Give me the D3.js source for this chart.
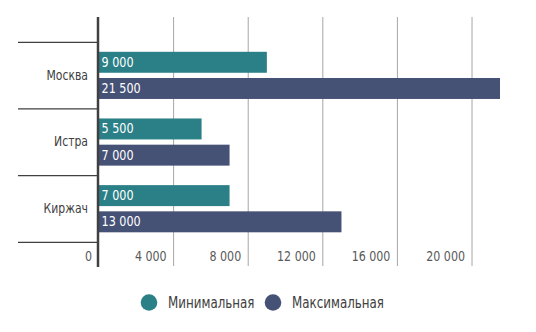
<!DOCTYPE html>
<html>
<head>
<meta charset="utf-8">
<script src="https://cdn.jsdelivr.net/npm/d3@7/dist/d3.min.js"></script>
<style>
  html, body { margin: 0; padding: 0; background: #fff; }
  svg { display: block; font-family: "DejaVu Sans Condensed", "Liberation Sans", "Roboto", sans-serif; }
</style>
</head>
<body>
<svg id="chart" width="536" height="332"></svg>
<script>
// Data
const cities = ["Москва", "Истра", "Киржач"];
const minValues = [9000, 5500, 7000];
const maxValues = [21500, 7000, 13000];
const seriesNames = ["Минимальная", "Максимальная"];
const tickValues = [0, 4000, 8000, 12000, 16000, 20000];

const colors = ["#2b7f86", "#465176"];
const fmt = v => d3.format(",")(v).replace(/,/g, "\u00a0");

// Narrow the text horizontally for a condensed look
function condense(sel, k) {
  sel.each(function () {
    const w = this.getComputedTextLength();
    d3.select(this).attr("textLength", w * k).attr("lengthAdjust", "spacingAndGlyphs");
  });
}

const svg = d3.select("#chart");

const x = d3.scaleLinear().domain([0, 21500]).range([99, 500]);
const y = d3.scaleBand().domain(cities).range([42.3, 242.3]).paddingInner(0).paddingOuter(0);
const inner = d3.scaleBand().domain([0, 1]).range([9.5, y.bandwidth() - 10]).paddingInner(0.2);

const gridTop = 17, gridBottom = 266;

// Vertical grid lines
svg.append("g").selectAll("line")
  .data(tickValues.filter(d => d > 0))
  .join("line")
  .attr("x1", d => x(d)).attr("x2", d => x(d))
  .attr("y1", gridTop).attr("y2", gridBottom)
  .attr("stroke", "#a6a6a6").attr("stroke-width", 1);

// Tick labels (right-aligned to the left of each grid line)
svg.append("g").selectAll("text")
  .data(tickValues)
  .join("text")
  .attr("x", d => x(d) - 7)
  .attr("y", 256.5)
  .attr("text-anchor", "end")
  .attr("dominant-baseline", "middle")
  .attr("font-size", 14)
  .attr("fill", "#595959")
  .text(d => fmt(d))
  .call(condense, 0.88);

// Category separators
const seps = cities.map(c => y(c)).concat([y(cities[cities.length - 1]) + y.bandwidth()]);
svg.append("g").selectAll("line")
  .data(seps)
  .join("line")
  .attr("x1", 18).attr("x2", 98)
  .attr("y1", d => d).attr("y2", d => d)
  .attr("stroke", "#404040").attr("stroke-width", 1.2);

// Category labels
svg.append("g").selectAll("text")
  .data(cities)
  .join("text")
  .attr("x", 88)
  .attr("y", d => y(d) + y.bandwidth() / 2)
  .attr("text-anchor", "end")
  .attr("dominant-baseline", "middle")
  .attr("font-size", 14)
  .attr("fill", "#404040")
  .text(d => d)
  .call(condense, 0.86);

// Bars
const rows = [];
cities.forEach((c, i) => {
  rows.push({ city: c, s: 0, v: minValues[i] });
  rows.push({ city: c, s: 1, v: maxValues[i] });
});

const bars = svg.append("g").selectAll("g")
  .data(rows)
  .join("g")
  .attr("transform", d => `translate(0,${y(d.city) + inner(d.s)})`);

bars.append("rect")
  .attr("x", x(0))
  .attr("y", 0)
  .attr("width", d => x(d.v) - x(0))
  .attr("height", inner.bandwidth())
  .attr("fill", d => colors[d.s]);

bars.append("text")
  .attr("x", x(0) + 2.5)
  .attr("y", inner.bandwidth() / 2 + 0.5)
  .attr("dominant-baseline", "middle")
  .attr("font-size", 14)
  .attr("fill", "#ffffff")
  .text(d => fmt(d.v))
  .call(condense, 0.89);

// Axis line
svg.append("line")
  .attr("x1", 98).attr("x2", 98)
  .attr("y1", gridTop).attr("y2", gridBottom + 1)
  .attr("stroke", "#404040").attr("stroke-width", 2.5);

// Legend
const legendX = [149, 273];
const legend = svg.append("g").selectAll("g")
  .data(seriesNames)
  .join("g")
  .attr("transform", (d, i) => `translate(${legendX[i]},302.5)`);

legend.append("circle")
  .attr("r", 8.3)
  .attr("fill", (d, i) => colors[i]);

legend.append("text")
  .attr("x", 19)
  .attr("y", 0.5)
  .attr("dominant-baseline", "middle")
  .attr("font-size", 15)
  .attr("fill", "#404040")
  .text(d => d)
  .call(condense, 0.88);
</script>
</body>
</html>
